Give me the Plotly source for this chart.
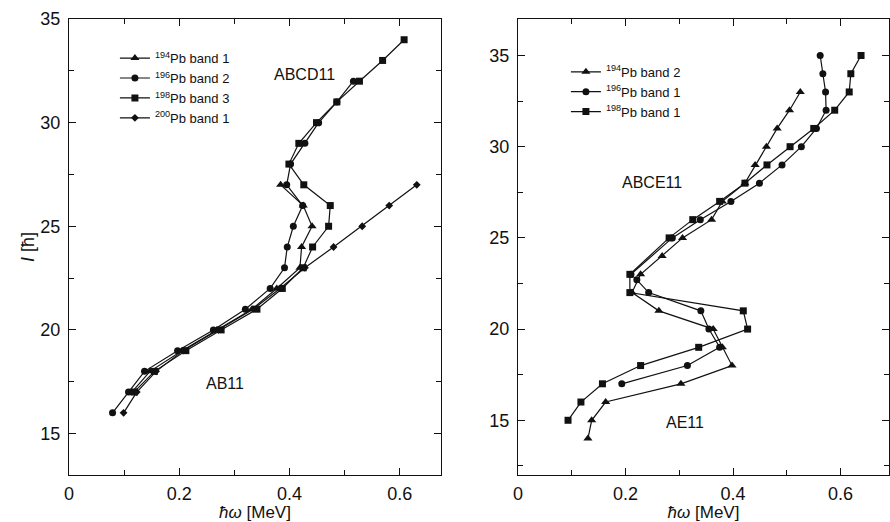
import plotly.graph_objects as go

# ---------------- left panel data (hbar*omega [MeV], I [hbar]) ----------------
L_194_b1_I = [27, 26, 25, 24, 23, 22, 21, 20, 19, 18, 17]
L_194_b1_w = [0.384, 0.425, 0.441, 0.422, 0.419, 0.377, 0.332, 0.268, 0.205, 0.147, 0.114]

L_196_b2_I = [32, 31, 30, 29, 28, 27, 26, 25, 24, 23, 22, 21, 20, 19, 18, 17, 16]
L_196_b2_w = [0.516, 0.486, 0.453, 0.428, 0.402, 0.395, 0.424, 0.407, 0.396, 0.391,
              0.365, 0.320, 0.262, 0.197, 0.137, 0.108, 0.079]

L_198_b3_I = [34, 33, 32, 31, 30, 29, 28, 27, 26, 25, 24, 23, 22, 21, 20, 19, 18, 17]
L_198_b3_w = [0.608, 0.569, 0.527, 0.486, 0.449, 0.417, 0.399, 0.426, 0.474, 0.471,
              0.442, 0.425, 0.387, 0.341, 0.276, 0.212, 0.155, 0.118]

L_200_b1_I = [27, 26, 25, 24, 23, 22, 21, 20, 19, 18, 17, 16]
L_200_b1_w = [0.631, 0.581, 0.532, 0.480, 0.428, 0.383, 0.334, 0.271, 0.207, 0.158, 0.123, 0.099]

# ---------------- right panel data ----------------
R_194_b2_I = [33, 32, 31, 30, 29, 28, 27, 26, 25, 24, 23, 22, 21, 20, 19, 18, 17, 16, 15, 14]
R_194_b2_w = [0.525, 0.505, 0.482, 0.462, 0.441, 0.422, 0.380, 0.360, 0.306, 0.268,
              0.228, 0.212, 0.262, 0.363, 0.380, 0.398, 0.303, 0.163, 0.137, 0.130]

R_196_b1_I = [35, 34, 33, 32, 31, 30, 29, 28, 27, 26, 25, 23, 22.7, 22, 21, 20, 19, 18, 17]
R_196_b1_w = [0.562, 0.567, 0.572, 0.573, 0.555, 0.527, 0.491, 0.449, 0.396, 0.339,
              0.287, 0.210, 0.221, 0.243, 0.340, 0.355, 0.375, 0.315, 0.193]

R_198_b1_I = [35, 34, 33, 32, 31, 30, 29, 28, 27, 26, 25, 23, 22, 21, 20, 19, 18, 17, 16, 15]
R_198_b1_w = [0.638, 0.619, 0.616, 0.589, 0.550, 0.506, 0.463, 0.422, 0.375, 0.325,
              0.281, 0.208, 0.208, 0.419, 0.427, 0.336, 0.228, 0.157, 0.117, 0.093]

left_series = [
    ("<sup>194</sup>Pb band 1", L_194_b1_w, L_194_b1_I, "triangle-up", 8),
    ("<sup>196</sup>Pb band 2", L_196_b2_w, L_196_b2_I, "circle", 7),
    ("<sup>198</sup>Pb band 3", L_198_b3_w, L_198_b3_I, "square", 7),
    ("<sup>200</sup>Pb band 1", L_200_b1_w, L_200_b1_I, "diamond", 6),
]
right_series = [
    ("<sup>194</sup>Pb band 2", R_194_b2_w, R_194_b2_I, "triangle-up", 8),
    ("<sup>196</sup>Pb band 1", R_196_b1_w, R_196_b1_I, "circle", 7),
    ("<sup>198</sup>Pb band 1", R_198_b1_w, R_198_b1_I, "square", 7),
]

FONT = "Liberation Sans, Arial, sans-serif"
INK = "#111111"

fig = go.Figure()
for name, w, I, sym, sz in left_series:
    fig.add_trace(go.Scatter(x=w, y=I, name=name, mode="lines+markers",
                             line=dict(color=INK, width=1.2),
                             marker=dict(symbol=sym, size=sz, color=INK),
                             xaxis="x", yaxis="y", legend="legend"))
for name, w, I, sym, sz in right_series:
    fig.add_trace(go.Scatter(x=w, y=I, name=name, mode="lines+markers",
                             line=dict(color=INK, width=1.2),
                             marker=dict(symbol=sym, size=sz, color=INK),
                             xaxis="x2", yaxis="y2", legend="legend2"))

def ax(**kw):
    d = dict(showline=True, linecolor=INK, linewidth=1.2, mirror="ticks",
             ticks="inside", ticklen=7, tickwidth=1.1, tickcolor=INK,
             showgrid=False, zeroline=False, automargin=False,
             tickfont=dict(family=FONT, size=18, color=INK))
    d.update(kw)
    return d

xtitle = dict(text="<i>ħω</i> [MeV]", font=dict(family=FONT, size=17, color=INK), standoff=5)

fig.update_layout(
    width=890, height=522,
    margin=dict(l=69, r=1, t=19, b=47),
    paper_bgcolor="white", plot_bgcolor="white",
    font=dict(family=FONT, color=INK),
    xaxis=ax(domain=[0, 0.4537], range=[0, 0.675], dtick=0.2, tick0=0,
             minor=dict(ticks="inside", dtick=0.1, ticklen=5, tickcolor=INK, tickwidth=1),
             title=xtitle, ticklabelstandoff=2, anchor="y"),
    yaxis=ax(domain=[0, 1], range=[13, 35], dtick=5, tick0=0,
             minor=dict(ticks="inside", dtick=2.5, ticklen=5, tickcolor=INK, tickwidth=1),
             ticklabelstandoff=4, anchor="x"),
    xaxis2=ax(domain=[0.5476, 1.0], range=[0, 0.69], dtick=0.2, tick0=0,
              minor=dict(ticks="inside", dtick=0.1, ticklen=5, tickcolor=INK, tickwidth=1),
              title=xtitle, ticklabelstandoff=2, anchor="y2"),
    yaxis2=ax(domain=[0, 1], range=[12, 37], dtick=5, tick0=0,
              minor=dict(ticks="inside", dtick=2.5, ticklen=5, tickcolor=INK, tickwidth=1),
              ticklabelstandoff=4, anchor="x2"),
    legend=dict(x=0.056, y=0.947, xanchor="left", yanchor="top", bgcolor="rgba(0,0,0,0)",
                font=dict(family=FONT, size=13, color=INK), itemwidth=30),
    legend2=dict(x=0.606, y=0.917, xanchor="left", yanchor="top", bgcolor="rgba(0,0,0,0)",
                 font=dict(family=FONT, size=13, color=INK), itemwidth=30),
    showlegend=True,
)

# y-axis title of the left panel
fig.add_annotation(x=-0.05, y=0.5, xref="paper", yref="paper", text="<i>I</i> [ħ]",
                   textangle=-90, showarrow=False, xanchor="center", yanchor="middle",
                   font=dict(family=FONT, size=18, color=INK))

ann_font = dict(family=FONT, size=16, color=INK)
fig.add_annotation(x=0.428, y=32.3, xref="x", yref="y", text="ABCD11", showarrow=False, font=ann_font)
fig.add_annotation(x=0.283, y=17.4, xref="x", yref="y", text="AB11", showarrow=False, font=ann_font)
fig.add_annotation(x=0.25, y=28.05, xref="x2", yref="y2", text="ABCE11", showarrow=False, font=ann_font)
fig.add_annotation(x=0.311, y=14.9, xref="x2", yref="y2", text="AE11", showarrow=False, font=ann_font)

fig.write_html("out.html")
